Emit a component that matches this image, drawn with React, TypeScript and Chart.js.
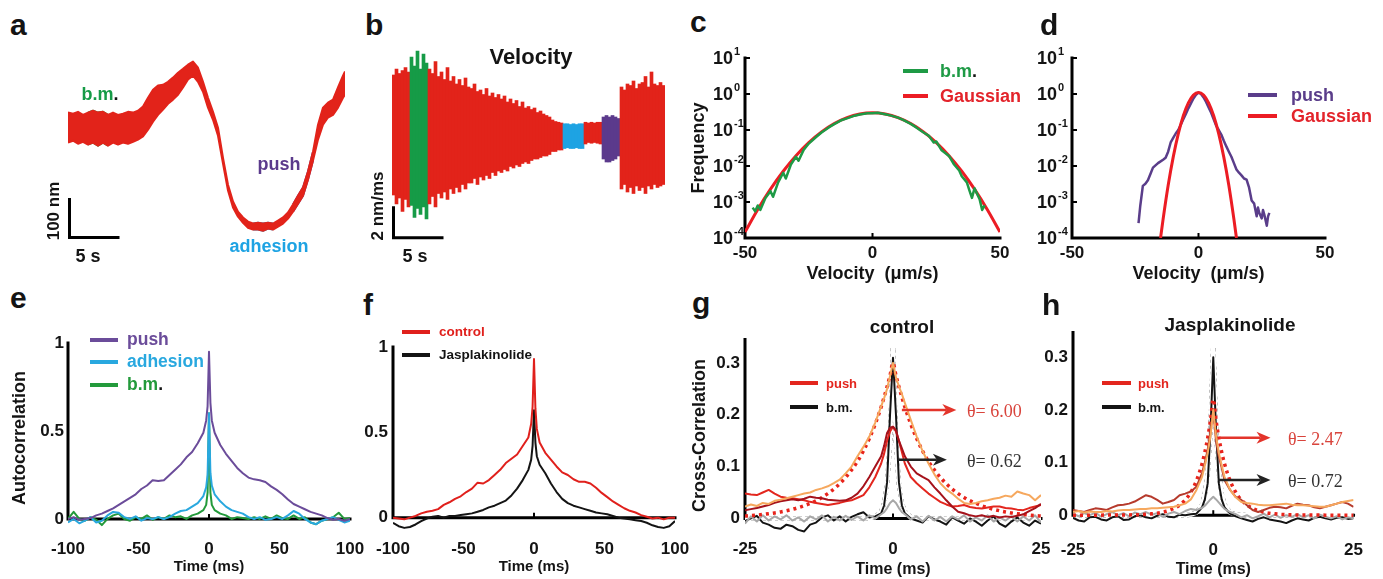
import React, { useEffect, useRef } from "react";
import { Chart, registerables } from "chart.js";

Chart.register(...registerables);

const SANS = "'Liberation Sans', Arial, Helvetica, sans-serif";
const SERIF = "'Liberation Serif', 'Times New Roman', Times, serif";
Chart.defaults.font.family = SANS;

// ---------------- panel a : position trace (nm) ----------------
const aTime = [0, 0.5, 1, 1.5, 2, 2.5, 3, 3.5, 4, 4.5, 5, 5.5, 6, 6.5, 7, 7.5, 8, 8.5, 9, 9.5, 10, 10.5, 11, 11.5, 12, 12.5, 13, 13.5, 14, 14.5, 15, 15.5, 16, 16.5, 17, 17.5, 18, 18.5, 19, 19.5, 20, 20.5, 21, 21.5, 22, 22.5, 23, 23.5, 24, 24.5, 25, 25.5, 26, 26.5, 27, 27.5, 27.7];
const aUpper = [329, 326, 331, 323, 329, 334, 329, 331, 323, 329, 323, 326, 331, 329, 334, 345, 368, 389, 400, 402, 410, 421, 434, 444, 455, 463, 447, 410, 368, 331, 289, 210, 139, 95, 68, 53, 42, 37, 39, 37, 39, 37, 45, 53, 66, 87, 110, 132, 174, 226, 297, 342, 355, 363, 395, 426, 437];
const aLower = [250, 255, 247, 252, 245, 250, 242, 250, 242, 250, 245, 250, 247, 252, 258, 266, 284, 305, 323, 337, 352, 363, 376, 395, 416, 426, 410, 384, 342, 310, 268, 195, 124, 79, 55, 39, 26, 21, 21, 18, 24, 21, 29, 37, 50, 68, 89, 110, 153, 203, 258, 297, 316, 323, 342, 368, 376];
const aBmWindow = [2, 4];
const aAdhesionWindow = [18.5, 20.5];
const aPushWindow = [22.5, 24.5];

// ---------------- panel b : velocity (nm/ms) ----------------
const bTime = [0, 0.3, 0.6, 0.9, 1.2, 1.5, 1.8, 2.1, 2.4, 2.7, 3, 3.3, 3.6, 3.9, 4.2, 4.5, 4.8, 5.1, 5.4, 5.7, 6, 6.3, 6.6, 6.9, 7.2, 7.5, 7.8, 8.1, 8.4, 8.7, 9, 9.3, 9.6, 9.9, 10.2, 10.5, 10.8, 11.1, 11.4, 11.7, 12, 12.3, 12.6, 12.9, 13.2, 13.5, 13.8, 14.1, 14.4, 14.7, 15, 15.3, 15.6, 15.9, 16.2, 16.5, 16.8, 17.1, 17.4, 17.7, 18, 18.3, 18.6, 18.9, 19.2, 19.5, 19.8, 20.1, 20.4, 20.7, 21, 21.3, 21.6, 21.9, 22.2, 22.5, 22.8, 23.1, 23.4, 23.7, 24, 24.3, 24.6, 24.9, 25.2, 25.5, 25.8, 26.1, 26.4, 26.7, 27];
const bHigh = [4.0, 4.4, 4.1, 4.3, 4.5, 4.2, 5.2, 4.6, 5.6, 4.4, 5.4, 4.8, 4.4, 4.1, 4.9, 3.9, 4.2, 3.7, 4.5, 3.6, 3.9, 3.4, 3.7, 3.3, 3.8, 3.2, 3.1, 3.4, 2.9, 3.0, 2.7, 3.1, 2.6, 2.8, 2.5, 2.7, 2.4, 2.6, 2.2, 2.4, 2.1, 2.3, 1.9, 2.2, 1.8, 1.9, 1.7, 1.8, 1.5, 1.6, 1.4, 1.3, 1.2, 1.0, 0.9, 0.85, 0.8, 0.75, 0.75, 0.7, 0.75, 0.7, 0.75, 0.75, 0.85, 0.8, 0.85, 0.8, 0.85, 0.85, 1.2, 1.3, 1.2, 1.3, 1.2, 1.1, 3.2, 3.0, 3.4, 3.3, 3.6, 3.1, 3.4, 3.5, 3.9, 3.2, 4.2, 3.4, 3.3, 3.5, 3.3];
const bLow = [-4.0, -4.6, -4.2, -5.1, -4.3, -4.8, -4.7, -5.5, -4.9, -5.3, -4.8, -5.6, -4.6, -4.1, -4.8, -3.9, -4.2, -3.8, -4.3, -3.6, -3.9, -3.5, -3.8, -3.3, -3.6, -3.2, -3.2, -2.9, -3.3, -2.8, -3.0, -2.7, -2.9, -2.5, -2.7, -2.4, -2.5, -2.3, -2.4, -2.1, -2.2, -2.0, -2.1, -1.9, -1.8, -1.9, -1.7, -1.6, -1.6, -1.5, -1.4, -1.4, -1.3, -1.1, -1.1, -1.0, -1.0, -0.9, -0.85, -0.9, -0.9, -0.85, -0.9, -0.9, -0.6, -0.5, -0.55, -0.5, -0.55, -0.6, -1.6, -1.8, -1.8, -1.7, -1.6, -1.4, -3.6, -3.3, -3.8, -3.5, -3.9, -3.4, -3.7, -3.5, -3.9, -3.4, -3.6, -3.3, -3.5, -3.4, -3.3];
const bBmWindow = [1.8, 3.3];
const bAdhesionWindow = [17.1, 18.9];
const bPushWindow = [21.0, 22.5];

// ---------------- panel c : b.m. velocity histogram ----------------
const cGaussX = [-50, -45, -40, -35, -30, -25, -20, -15, -10, -5, 0, 5, 10, 15, 20, 25, 30, 35, 40, 45, 50];
const cGaussY = [1.46e-4, 6.2e-4, 2.27e-3, 7.14e-3, 0.0193, 0.0446, 0.0885, 0.151, 0.221, 0.278, 0.3, 0.278, 0.221, 0.151, 0.0885, 0.0446, 0.0193, 7.14e-3, 2.27e-3, 6.2e-4, 1.46e-4];
const cBmX = [-47, -46, -45, -44, -42, -40, -39, -37, -35, -34, -32, -30, -29, -27, -25, -22, -20, -17, -15, -12, -10, -7, -5, -2, 0, 2, 5, 7, 10, 12, 15, 17, 20, 22, 24, 25, 27, 30, 32, 34, 35, 37, 38, 39, 40, 42, 43, 44];
const cBmY = [7e-4, 5.5e-4, 8e-4, 6e-4, 1.3e-3, 2.0e-3, 1.4e-3, 3.5e-3, 6.5e-3, 4.5e-3, 0.011, 0.018, 0.014, 0.028, 0.042, 0.065, 0.085, 0.12, 0.145, 0.19, 0.21, 0.25, 0.27, 0.29, 0.29, 0.3, 0.275, 0.255, 0.22, 0.19, 0.148, 0.12, 0.085, 0.07, 0.045, 0.048, 0.028, 0.019, 0.011, 0.0075, 0.0052, 0.0035, 0.0021, 0.0013, 0.0024, 0.0012, 6e-4, 8e-4];

// ---------------- panel d : push velocity histogram ----------------
const dPushX = [-23.7, -23, -22, -21, -20, -19, -18, -16, -14, -13, -12, -11, -10, -9, -8, -7, -6, -5, -4, -3, -2, -1, 0, 1, 2, 3, 4, 5, 6, 7, 8, 9, 10, 11, 12, 13, 14, 15, 16, 17, 18, 19, 20, 21, 22, 23, 23.5, 24, 25, 25.5, 26, 27, 27.5, 28];
const dPushY = [2.6e-4, 8e-4, 2.8e-3, 3.2e-3, 4e-3, 6e-3, 9e-3, 1.2e-2, 1.5e-2, 1.7e-2, 2.5e-2, 4.5e-2, 6e-2, 8e-2, 0.1, 0.14, 0.2, 0.28, 0.4, 0.55, 0.75, 0.95, 1.1, 1.0, 0.8, 0.6, 0.42, 0.3, 0.2, 0.13, 0.1, 0.075, 0.05, 0.035, 0.025, 0.018, 0.012, 0.008, 0.0065, 0.0055, 0.0045, 0.0042, 0.0025, 0.0011, 9e-4, 4e-4, 7e-4, 5e-4, 3.5e-4, 6e-4, 4.5e-4, 2.2e-4, 4e-4, 5e-4];
const dGaussX = [-15, -14, -12, -10, -8, -6, -4, -2, 0, 2, 4, 6, 8, 10, 12, 14, 15];
const dGaussY = [1.0e-4, 3.3e-4, 2.86e-3, 0.0176, 0.078, 0.248, 0.568, 0.933, 1.1, 0.933, 0.568, 0.248, 0.078, 0.0176, 2.86e-3, 3.3e-4, 1.0e-4];
const logTicks = [1e-4, 1e-3, 1e-2, 1e-1, 1, 10];
const velocityTicks = [-50, 0, 50];

// ---------------- panels e, f : autocorrelation ----------------
const eTime = [-100, -96, -92, -88, -84, -80, -76, -72, -68, -64, -60, -56, -52, -48, -44, -40, -36, -32, -28, -24, -20, -16, -12, -8, -4, -2, -1, 0, 1, 2, 4, 8, 12, 16, 20, 24, 28, 32, 36, 40, 44, 48, 52, 56, 60, 64, 68, 72, 76, 80, 84, 88, 92, 96, 100];
const ePush = [0.00, 0.01, -0.005, 0.00, 0.005, 0.02, 0.03, 0.045, 0.06, 0.08, 0.10, 0.12, 0.14, 0.17, 0.19, 0.22, 0.215, 0.22, 0.25, 0.28, 0.31, 0.35, 0.38, 0.43, 0.49, 0.56, 0.64, 0.95, 0.66, 0.56, 0.49, 0.42, 0.37, 0.33, 0.29, 0.26, 0.235, 0.225, 0.22, 0.21, 0.185, 0.165, 0.14, 0.11, 0.085, 0.07, 0.055, 0.04, 0.03, 0.02, 0.005, -0.005, 0.0, -0.01, 0.0];
const eAdhesion = [-0.02, 0.0, -0.025, -0.01, 0.01, -0.02, -0.01, 0.02, 0.04, 0.035, 0.01, 0.0, 0.015, -0.01, 0.005, 0.0, 0.01, 0.0, 0.01, 0.03, 0.045, 0.05, 0.07, 0.09, 0.13, 0.18, 0.25, 0.6, 0.26, 0.19, 0.14, 0.1, 0.07, 0.05, 0.04, 0.03, 0.01, 0.0, 0.01, -0.005, 0.0, 0.01, 0.0, 0.02, 0.045, 0.03, 0.0, -0.02, -0.03, -0.01, 0.0, 0.01, -0.005, -0.02, -0.01];
const eBm = [0.0, 0.04, 0.0, -0.01, 0.01, -0.005, -0.035, 0.0, 0.02, 0.03, 0.0, -0.01, 0.01, 0.0, 0.02, -0.005, 0.01, 0.0, 0.02, 0.01, 0.015, 0.0, 0.02, 0.03, 0.05, 0.08, 0.15, 0.6, 0.15, 0.08, 0.05, 0.03, 0.02, 0.0, 0.01, 0.005, 0.0, 0.01, 0.0, 0.015, 0.0, 0.02, 0.005, 0.0, 0.02, 0.0, 0.01, -0.02, -0.03, -0.01, 0.0, 0.01, 0.035, 0.0, 0.005];
const fControl = [0.0, -0.005, -0.01, 0.0, 0.01, 0.025, 0.035, 0.04, 0.05, 0.075, 0.09, 0.11, 0.125, 0.15, 0.17, 0.205, 0.2, 0.22, 0.25, 0.28, 0.32, 0.345, 0.37, 0.42, 0.47, 0.55, 0.65, 0.93, 0.64, 0.52, 0.44, 0.38, 0.34, 0.3, 0.265, 0.25, 0.225, 0.21, 0.21, 0.2, 0.175, 0.145, 0.12, 0.095, 0.075, 0.055, 0.04, 0.03, 0.015, 0.005, -0.005, 0.0, -0.01, 0.0, 0.0];
const fJasp = [-0.03, -0.05, -0.06, -0.055, -0.04, -0.02, -0.005, 0.005, 0.01, 0.0, 0.01, 0.01, 0.015, 0.02, 0.025, 0.035, 0.045, 0.06, 0.07, 0.085, 0.1, 0.13, 0.17, 0.22, 0.28, 0.34, 0.42, 0.63, 0.44, 0.36, 0.31, 0.26, 0.2, 0.15, 0.11, 0.085, 0.07, 0.06, 0.05, 0.04, 0.03, 0.025, 0.02, 0.01, 0.0, -0.005, -0.01, -0.015, -0.02, -0.03, -0.045, -0.055, -0.06, -0.05, -0.02];
const lagTicks = [-100, -50, 0, 50, 100];
const acTicks = [0, 0.5, 1];

// ---------------- panels g, h : cross-correlation ----------------
const gTime = [-25, -24, -23, -22, -21, -20, -19, -18, -17, -16, -15, -14, -13, -12, -11, -10, -9, -8, -7, -6, -5, -4, -3, -2, -1.5, -1, -0.5, 0, 0.5, 1, 1.5, 2, 3, 4, 5, 6, 7, 8, 9, 10, 11, 12, 13, 14, 15, 16, 17, 18, 19, 20, 21, 22, 23, 24, 25];
const gOrange = [0.023, 0.027, 0.024, 0.03, 0.028, 0.034, 0.036, 0.039, 0.042, 0.045, 0.048, 0.05, 0.055, 0.058, 0.062, 0.068, 0.075, 0.087, 0.1, 0.12, 0.138, 0.158, 0.185, 0.216, 0.232, 0.25, 0.275, 0.3, 0.272, 0.255, 0.24, 0.223, 0.19, 0.158, 0.13, 0.106, 0.085, 0.068, 0.056, 0.048, 0.038, 0.03, 0.028, 0.03, 0.033, 0.035, 0.038, 0.04, 0.044, 0.042, 0.052, 0.048, 0.045, 0.035, 0.045];
const gPushRed = [0.048, 0.046, 0.045, 0.05, 0.055, 0.048, 0.042, 0.04, 0.039, 0.037, 0.035, 0.032, 0.03, 0.028, 0.026, 0.028, 0.03, 0.033, 0.035, 0.04, 0.045, 0.06, 0.08, 0.106, 0.125, 0.15, 0.168, 0.177, 0.168, 0.15, 0.128, 0.106, 0.08, 0.068, 0.058, 0.048, 0.04, 0.032, 0.027, 0.023, 0.024, 0.026, 0.022, 0.02, 0.019, 0.021, 0.023, 0.023, 0.02, 0.019, 0.017, 0.016, 0.02, 0.023, 0.026];
const gPushDark = [0.016, 0.018, 0.02, 0.023, 0.026, 0.03, 0.033, 0.035, 0.037, 0.035, 0.038, 0.042, 0.04, 0.039, 0.036, 0.035, 0.034, 0.035, 0.04, 0.048, 0.062, 0.08, 0.1, 0.12, 0.14, 0.165, 0.175, 0.177, 0.17, 0.15, 0.135, 0.12, 0.1, 0.087, 0.08, 0.074, 0.06, 0.048, 0.035, 0.023, 0.013, 0.01, 0.006, 0.004, 0.006, 0.003, 0.005, 0.002, 0.004, 0.003, 0.005, 0.008, 0.014, 0.02, 0.028];
const gBmBlack = [-0.005, 0.0, 0.005, -0.008, -0.012, -0.018, -0.02, -0.012, -0.015, -0.022, -0.025, -0.012, -0.008, 0.002, 0.006, -0.004, 0.004, -0.006, 0.003, 0.008, 0.012, 0.002, 0.004, 0.01, 0.025, 0.07, 0.2, 0.31, 0.2, 0.07, 0.025, 0.01, 0.0, -0.004, -0.008, 0.004, -0.002, -0.006, -0.012, 0.002, -0.004, -0.01, 0.0, -0.006, -0.014, -0.004, 0.004, -0.01, -0.016, -0.006, 0.002, -0.008, -0.014, -0.004, -0.01];
const gBmGray = [-0.01, 0.004, -0.006, 0.006, -0.004, 0.004, -0.002, 0.006, -0.004, 0.002, -0.006, 0.004, -0.002, 0.006, -0.006, 0.003, -0.004, 0.005, -0.003, 0.004, -0.004, 0.006, 0.0, 0.008, 0.012, 0.02, 0.03, 0.035, 0.03, 0.02, 0.012, 0.008, -0.002, 0.004, -0.006, 0.005, -0.004, 0.003, -0.006, 0.004, -0.002, 0.006, -0.006, 0.002, -0.004, 0.006, -0.006, 0.002, -0.004, 0.004, -0.006, 0.004, -0.004, 0.006, -0.008];
const gFitPush = [0.0046, 0.0055, 0.0065, 0.0077, 0.0091, 0.0107, 0.0126, 0.0149, 0.0176, 0.0208, 0.0246, 0.0291, 0.0344, 0.0406, 0.048, 0.0567, 0.0669, 0.0791, 0.0934, 0.110, 0.130, 0.154, 0.182, 0.215, 0.234, 0.254, 0.276, 0.300, 0.276, 0.254, 0.234, 0.215, 0.182, 0.154, 0.130, 0.110, 0.0934, 0.0791, 0.0669, 0.0567, 0.048, 0.0406, 0.0344, 0.0291, 0.0246, 0.0208, 0.0176, 0.0149, 0.0126, 0.0107, 0.0091, 0.0077, 0.0065, 0.0055, 0.0046];
const gFitBm = [0, 0, 0, 0, 0, 0, 0, 0, 0, 0, 0, 0, 0, 0, 0, 0, 0, 0, 0, 0, 0.0001, 0.0005, 0.0026, 0.013, 0.029, 0.066, 0.147, 0.33, 0.147, 0.066, 0.029, 0.013, 0.0026, 0.0005, 0.0001, 0, 0, 0, 0, 0, 0, 0, 0, 0, 0, 0, 0, 0, 0, 0, 0, 0, 0, 0, 0];
const hOrange = [0.006, 0.008, 0.005, 0.007, 0.006, 0.006, 0.008, 0.007, 0.009, 0.01, 0.01, 0.011, 0.012, 0.012, 0.013, 0.013, 0.014, 0.015, 0.016, 0.019, 0.022, 0.03, 0.048, 0.073, 0.095, 0.118, 0.15, 0.2, 0.15, 0.118, 0.095, 0.073, 0.048, 0.034, 0.025, 0.023, 0.022, 0.02, 0.019, 0.019, 0.02, 0.021, 0.022, 0.02, 0.019, 0.019, 0.018, 0.017, 0.016, 0.016, 0.019, 0.022, 0.025, 0.027, 0.029];
const hPushBrown = [0.01, 0.008, 0.006, 0.01, 0.013, 0.012, 0.01, 0.015, 0.019, 0.02, 0.022, 0.026, 0.032, 0.038, 0.035, 0.029, 0.022, 0.025, 0.029, 0.038, 0.041, 0.045, 0.054, 0.08, 0.1, 0.124, 0.16, 0.2, 0.14, 0.111, 0.09, 0.067, 0.048, 0.035, 0.029, 0.019, 0.01, 0.006, 0.01, 0.014, 0.016, 0.015, 0.013, 0.018, 0.022, 0.02, 0.019, 0.015, 0.013, 0.016, 0.019, 0.022, 0.025, 0.022, 0.016];
const hBmBlack = [-0.005, -0.01, -0.012, -0.004, -0.003, -0.008, -0.01, -0.004, -0.002, -0.009, -0.008, -0.002, 0.0, -0.004, -0.006, -0.001, 0.002, -0.003, -0.004, 0.001, 0.0, 0.002, 0.003, 0.015, 0.03, 0.06, 0.16, 0.3, 0.16, 0.06, 0.03, 0.015, 0.003, -0.002, -0.006, -0.009, -0.012, -0.007, -0.004, -0.008, -0.01, -0.012, -0.015, -0.01, -0.006, -0.008, -0.01, -0.005, -0.003, -0.006, -0.008, -0.005, -0.004, -0.007, -0.006];
const hBmGray = [0.003, -0.002, 0.004, 0.0, 0.005, -0.003, 0.002, 0.006, 0.0, 0.004, -0.002, 0.005, 0.002, 0.006, 0.001, 0.004, -0.003, 0.003, 0.006, 0.002, 0.008, 0.012, 0.01, 0.014, 0.018, 0.024, 0.03, 0.035, 0.03, 0.024, 0.018, 0.012, 0.006, 0.002, -0.004, 0.0, -0.006, -0.002, 0.003, -0.004, 0.001, -0.005, 0.0, -0.003, 0.002, -0.004, 0.0, -0.006, 0.001, -0.003, -0.006, -0.002, -0.008, -0.004, -0.006];
const hFitPush = [0.00005, 0.00006, 0.00008, 0.0001, 0.00012, 0.00015, 0.0002, 0.00023, 0.00028, 0.00034, 0.0005, 0.0008, 0.0011, 0.0017, 0.0026, 0.0038, 0.0058, 0.0086, 0.0129, 0.0194, 0.0291, 0.0437, 0.0655, 0.098, 0.12, 0.1465, 0.18, 0.22, 0.18, 0.1465, 0.12, 0.098, 0.0655, 0.0437, 0.0291, 0.0194, 0.0129, 0.0086, 0.0058, 0.0038, 0.0026, 0.0017, 0.0011, 0.0008, 0.0005, 0.00034, 0.00028, 0.00023, 0.0002, 0.00015, 0.00012, 0.0001, 0.00008, 0.00006, 0.00005];
const hFitBm = [0, 0, 0, 0, 0, 0, 0, 0, 0, 0, 0, 0, 0, 0, 0, 0, 0, 0, 0, 0, 0.0003, 0.0012, 0.005, 0.0199, 0.04, 0.0797, 0.159, 0.32, 0.159, 0.0797, 0.04, 0.0199, 0.005, 0.0012, 0.0003, 0, 0, 0, 0, 0, 0, 0, 0, 0, 0, 0, 0, 0, 0, 0, 0, 0, 0, 0, 0];
const ccTimeTicks = [-25, 0, 25];
const ccTicks = [0, 0.1, 0.2, 0.3];

// annotation arrows (data coordinates)
const gArrows = [
  { x0: 1.5, x1: 10.7, y: 0.209, color: "#e3342b" },
  { x0: 0.8, x1: 9.1, y: 0.113, color: "#222" },
];
const hArrows = [
  { x0: 1.2, x1: 10.2, y: 0.147, color: "#e3342b" },
  { x0: 0.9, x1: 10.2, y: 0.067, color: "#222" },
];

// ---------------- colours ----------------
const RED = "#e2231a";
const GREEN = "#169b47";
const BLUE = "#1ea3e3";
const PURPLE = "#5b3a8c";
const E_PUSH = "#6b4c9a";
const E_ADH = "#29a8df";
const E_BM = "#239a3b";
const ORANGE = "#f6a85e";
const DARKRED = "#a5121b";
const BROWN = "#b63a2c";
const GRAY = "#a8a8a8";
const INK = "#141414";

// ---------------- helpers ----------------
function frame(L: number, R: number, T: number, B: number, yW: number, xH: number, padT: number, padR: number) {
  return { L, R, T, B, yW, xH, padT, padR, x: L - yW, y: T - padT, w: yW + (R - L) + padR, h: padT + (B - T) + xH };
}

function pts(xs: number[], ys: number[]) {
  return xs.map((x, i) => ({ x, y: ys[i] }));
}

function line(label: string, xs: number[], ys: number[], color: string, width: number, extra: any = {}) {
  return {
    type: "line",
    label,
    data: pts(xs, ys),
    borderColor: color,
    backgroundColor: color,
    borderWidth: width,
    pointRadius: 0,
    tension: 0,
    fill: false,
    borderJoinStyle: "round",
    ...extra,
  };
}

function baseOptions(fr: any, scales: any) {
  return {
    responsive: false,
    animation: false,
    devicePixelRatio: 1,
    events: [],
    layout: { padding: { top: fr.padT, right: fr.padR, left: 0, bottom: 0 } },
    plugins: { legend: { display: false }, tooltip: { enabled: false }, title: { display: false } },
    scales,
  };
}

function axisScales(o: any) {
  const fr = o.fr;
  return {
    x: {
      type: "linear",
      min: o.xMin,
      max: o.xMax,
      grid: { display: false, drawTicks: false },
      border: { display: false },
      afterBuildTicks: (s: any) => {
        s.ticks = o.xTicks.map((v: number) => ({ value: v }));
      },
      afterFit: (s: any) => {
        s.height = fr.xH;
      },
      ticks: {
        autoSkip: false,
        maxRotation: 0,
        minRotation: 0,
        padding: o.xPad,
        color: INK,
        font: { family: SANS, size: o.tickSize, weight: "bold" },
        callback: (v: any) => String(v),
      },
      title: {
        display: true,
        text: o.xTitle,
        color: INK,
        font: { family: SANS, size: o.xTitleSize, weight: "bold" },
        padding: { top: 0, bottom: 0 },
      },
    },
    y: {
      type: o.yType || "linear",
      min: o.yMin,
      max: o.yMax,
      grid: { display: false, drawTicks: false },
      border: { display: false },
      afterBuildTicks: (s: any) => {
        s.ticks = o.yTicks.map((v: number) => ({ value: v }));
      },
      afterFit: (s: any) => {
        s.width = fr.yW;
      },
      ticks: {
        display: o.yLabels !== false,
        autoSkip: false,
        padding: o.yPad ?? 4,
        color: INK,
        font: { family: SANS, size: o.tickSize, weight: "bold" },
        callback: (v: any) => String(v),
      },
      title: o.yTitle
        ? {
            display: true,
            text: o.yTitle,
            color: INK,
            font: { family: SANS, size: 18, weight: "bold" },
            padding: { top: o.yTitlePad, bottom: 0 },
          }
        : { display: false },
    },
  };
}

function axisPlugin(spec: any) {
  return {
    id: "axisLines",
    beforeDatasetsDraw(chart: any) {
      const { ctx } = chart;
      const x = chart.scales.x;
      const y = chart.scales.y;
      ctx.save();
      ctx.strokeStyle = "#000";
      ctx.lineWidth = 3;
      ctx.lineCap = "square";
      const yx = x.getPixelForValue(spec.yAxis.at);
      const xy = y.getPixelForValue(spec.xAxis.at);
      ctx.beginPath();
      ctx.moveTo(yx, y.getPixelForValue(spec.yAxis.from));
      ctx.lineTo(yx, y.getPixelForValue(spec.yAxis.to));
      ctx.moveTo(x.getPixelForValue(spec.xAxis.from), xy);
      ctx.lineTo(x.getPixelForValue(spec.xAxis.to), xy);
      ctx.stroke();
      ctx.lineWidth = 2;
      ctx.lineCap = "butt";
      ctx.beginPath();
      for (const v of spec.xTicks || []) {
        const px = x.getPixelForValue(v);
        ctx.moveTo(px, xy);
        ctx.lineTo(px, xy - 5);
      }
      for (const v of spec.yTicks || []) {
        const py = y.getPixelForValue(v);
        ctx.moveTo(yx, py);
        ctx.lineTo(yx + 5, py);
      }
      ctx.stroke();
      ctx.restore();
    },
  };
}

function logLabelPlugin(ticks: number[], gap: number) {
  return {
    id: "logLabels",
    afterDraw(chart: any) {
      const { ctx, chartArea } = chart;
      const y = chart.scales.y;
      ctx.save();
      ctx.fillStyle = INK;
      ctx.textBaseline = "middle";
      for (const v of ticks) {
        const py = y.getPixelForValue(v);
        const exp = Math.round(Math.log10(v));
        const xr = chartArea.left - gap;
        ctx.font = `bold 18px ${SANS}`;
        ctx.textAlign = "right";
        ctx.fillText("10", xr, py + 1);
        ctx.font = `bold 11px ${SANS}`;
        ctx.textAlign = "left";
        ctx.fillText(String(exp), xr + 1, py - 6);
      }
      ctx.restore();
    },
  };
}

function arrowPlugin(arrows: any[]) {
  return {
    id: "arrows",
    afterDatasetsDraw(chart: any) {
      const { ctx } = chart;
      const x = chart.scales.x;
      const y = chart.scales.y;
      ctx.save();
      for (const a of arrows) {
        const x0 = x.getPixelForValue(a.x0);
        const x1 = x.getPixelForValue(a.x1);
        const py = y.getPixelForValue(a.y);
        ctx.strokeStyle = a.color;
        ctx.fillStyle = a.color;
        ctx.lineWidth = 2.5;
        ctx.beginPath();
        ctx.moveTo(x0, py);
        ctx.lineTo(x1 - 10, py);
        ctx.stroke();
        ctx.beginPath();
        ctx.moveTo(x1, py);
        ctx.lineTo(x1 - 14, py - 6);
        ctx.lineTo(x1 - 10, py);
        ctx.lineTo(x1 - 14, py + 6);
        ctx.closePath();
        ctx.fill();
      }
      ctx.restore();
    },
  };
}

function scaleBarPlugin(getSpec: (chart: any) => any) {
  return {
    id: "scaleBar",
    afterDraw(chart: any) {
      const { ctx } = chart;
      const s = getSpec(chart);
      ctx.save();
      ctx.strokeStyle = "#000";
      ctx.lineWidth = 3;
      ctx.lineCap = "square";
      ctx.beginPath();
      ctx.moveTo(s.x0, s.yTop);
      ctx.lineTo(s.x0, s.yBase);
      ctx.lineTo(s.x1, s.yBase);
      ctx.stroke();
      ctx.restore();
    },
  };
}

function inWindow(t: number, w: number[]) {
  return t >= w[0] - 1e-9 && t <= w[1] + 1e-9;
}

function band(xs: number[], hi: number[], lo: number[], color: string, win?: number[]) {
  const idx = xs.map((_, i) => i).filter((i) => (win ? inWindow(xs[i], win) : true));
  const sx = idx.map((i) => xs[i]);
  return [
    line("hi", sx, idx.map((i) => hi[i]), color, 2),
    line("lo", sx, idx.map((i) => lo[i]), color, 2, { fill: "-1", backgroundColor: color }),
  ];
}

// ---------------- frames ----------------
const frA = { x: 68, y: 40, w: 277, h: 209, padT: 0, padR: 0 };
const frB = { x: 392, y: 45, w: 273, h: 200, padT: 0, padR: 0 };
const frC = frame(745, 1000, 58, 238, 65, 47, 18, 20);
const frD = frame(1072, 1325, 58, 238, 52, 47, 18, 20);
const frE = frame(68, 350, 343, 533, 68, 43, 20, 22);
const frF = frame(393, 675, 347, 533, 33, 43, 20, 22);
const frG = frame(745, 1041, 337, 534, 65, 45, 17, 15);
const frH = frame(1073, 1357, 331, 531, 53, 48, 17, 15);

// ---------------- chart configs ----------------
function makeA() {
  return {
    type: "line",
    data: {
      datasets: [
        ...band(aTime, aUpper, aLower, RED),
        ...band(aTime, aUpper, aLower, GREEN, aBmWindow),
        ...band(aTime, aUpper, aLower, BLUE, aAdhesionWindow),
        ...band(aTime, aUpper, aLower, PURPLE, aPushWindow),
      ],
    },
    options: baseOptions(frA, {
      x: { type: "linear", display: false, min: 0, max: 27.7 },
      y: { type: "linear", display: false, min: -30, max: 520 },
    }),
    plugins: [
      scaleBarPlugin((c: any) => ({
        x0: c.scales.x.getPixelForValue(0) + 1.5,
        x1: c.scales.x.getPixelForValue(5),
        yBase: c.scales.y.getPixelForValue(0),
        yTop: c.scales.y.getPixelForValue(100),
      })),
    ],
  };
}

function makeB() {
  const colors = bTime.map((t) =>
    inWindow(t, bBmWindow) ? GREEN : inWindow(t, bAdhesionWindow) ? BLUE : inWindow(t, bPushWindow) ? PURPLE : RED
  );
  return {
    type: "bar",
    data: {
      labels: bTime.map(String),
      datasets: [
        {
          label: "velocity",
          data: bTime.map((_, i) => [bLow[i], bHigh[i]]),
          backgroundColor: colors,
          borderWidth: 0,
          barPercentage: 1,
          categoryPercentage: 1,
        },
      ],
    },
    options: baseOptions(frB, {
      x: { type: "category", display: false },
      y: { type: "linear", display: false, min: -7.3333, max: 6 },
    }),
    plugins: [
      scaleBarPlugin((c: any) => {
        const step = c.scales.x.getPixelForValue(1) - c.scales.x.getPixelForValue(0);
        const perSec = step / (bTime[1] - bTime[0]);
        return {
          x0: c.chartArea.left + 1.5,
          x1: c.chartArea.left + 5 * perSec,
          yBase: c.scales.y.getPixelForValue(-6.85),
          yTop: c.scales.y.getPixelForValue(-4.85),
        };
      }),
    ],
  };
}

function makeC() {
  return {
    type: "line",
    data: {
      datasets: [
        line("b.m.", cBmX, cBmY, "#1e9a45", 2.5),
        line("Gaussian", cGaussX, cGaussY, "#ec1c24", 3, { cubicInterpolationMode: "monotone" }),
      ],
    },
    options: baseOptions(
      frC,
      axisScales({
        fr: frC, xMin: -50, xMax: 50, yMin: 1e-4, yMax: 10, yType: "logarithmic",
        xTicks: velocityTicks, yTicks: logTicks, yLabels: false, tickSize: 17, xPad: 5,
        xTitle: "Velocity  (\u03bcm/s)", xTitleSize: 18, yTitle: "Frequency", yTitlePad: 8,
      })
    ),
    plugins: [
      axisPlugin({ yAxis: { at: -50, from: 1e-4, to: 10 }, xAxis: { at: 1e-4, from: -50, to: 50 }, xTicks: [0], yTicks: logTicks }),
      logLabelPlugin(logTicks, 12),
    ],
  };
}

function makeD() {
  return {
    type: "line",
    data: {
      datasets: [
        line("Gaussian", dGaussX, dGaussY, "#ec1c24", 3, { cubicInterpolationMode: "monotone" }),
        line("push", dPushX, dPushY, "#5a3d8a", 2.5),
      ],
    },
    options: baseOptions(
      frD,
      axisScales({
        fr: frD, xMin: -50, xMax: 50, yMin: 1e-4, yMax: 10, yType: "logarithmic",
        xTicks: velocityTicks, yTicks: logTicks, yLabels: false, tickSize: 17, xPad: 5,
        xTitle: "Velocity  (\u03bcm/s)", xTitleSize: 18,
      })
    ),
    plugins: [
      axisPlugin({ yAxis: { at: -50, from: 1e-4, to: 10 }, xAxis: { at: 1e-4, from: -50, to: 50 }, xTicks: [0], yTicks: logTicks }),
      logLabelPlugin(logTicks, 15),
    ],
  };
}

function makeE() {
  return {
    type: "line",
    data: {
      datasets: [
        line("push", eTime, ePush, E_PUSH, 2),
        line("adhesion", eTime, eAdhesion, E_ADH, 2),
        line("b.m.", eTime, eBm, E_BM, 2),
      ],
    },
    options: baseOptions(
      frE,
      axisScales({
        fr: frE, xMin: -100, xMax: 100, yMin: -0.08, yMax: 1,
        xTicks: lagTicks, yTicks: acTicks, tickSize: 17, xPad: 6, yPad: 4,
        xTitle: "Time (ms)", xTitleSize: 15, yTitle: "Autocorrelation", yTitlePad: 9,
      })
    ),
    plugins: [axisPlugin({ yAxis: { at: -100, from: 0, to: 1 }, xAxis: { at: 0, from: -100, to: 100 }, xTicks: [0] })],
  };
}

function makeF() {
  return {
    type: "line",
    data: {
      datasets: [line("control", eTime, fControl, "#e0201c", 2), line("Jasplakinolide", eTime, fJasp, INK, 2)],
    },
    options: baseOptions(
      frF,
      axisScales({
        fr: frF, xMin: -100, xMax: 100, yMin: -0.09, yMax: 1,
        xTicks: lagTicks, yTicks: acTicks, tickSize: 17, xPad: 6, yPad: 5,
        xTitle: "Time (ms)", xTitleSize: 15,
      })
    ),
    plugins: [axisPlugin({ yAxis: { at: -100, from: 0, to: 1 }, xAxis: { at: 0, from: -100, to: 100 }, xTicks: [0] })],
  };
}

function ccDatasets(orange: number[], dark: number[], darkColor: string, red: number[] | null, gray: number[], black: number[], fitPush: number[], fitBm: number[]) {
  const ds: any[] = [
    line("orange", gTime, orange, ORANGE, 2),
    line("push 2", gTime, dark, darkColor, 2),
  ];
  if (red) ds.push(line("push", gTime, red, "#e3261e", 2));
  ds.push(line("push fit", gTime, fitPush, "#e8231b", 3.5, { borderDash: [3, 4], cubicInterpolationMode: "monotone" }));
  ds.push(line("b.m. 2", gTime, gray, GRAY, 2));
  ds.push(line("b.m.", gTime, black, INK, 2));
  ds.push(line("b.m. fit base", gTime, fitBm, "#ffffff", 4.5));
  ds.push(line("b.m. fit", gTime, fitBm, "#000", 4.5, { borderDash: [3, 3] }));
  return ds;
}

function makeG() {
  return {
    type: "line",
    data: { datasets: ccDatasets(gOrange, gPushDark, DARKRED, gPushRed, gBmGray, gBmBlack, gFitPush, gFitBm) },
    options: baseOptions(
      frG,
      axisScales({
        fr: frG, xMin: -25, xMax: 25, yMin: -0.03, yMax: 0.35,
        xTicks: ccTimeTicks, yTicks: ccTicks, tickSize: 17, xPad: 5, yPad: 5,
        xTitle: "Time (ms)", xTitleSize: 16, yTitle: "Cross-Correlation", yTitlePad: 9,
      })
    ),
    plugins: [
      axisPlugin({ yAxis: { at: -25, from: 0, to: 0.345 }, xAxis: { at: 0, from: -25, to: 25 }, xTicks: [0] }),
      arrowPlugin(gArrows),
    ],
  };
}

function makeH() {
  return {
    type: "line",
    data: { datasets: ccDatasets(hOrange, hPushBrown, BROWN, null, hBmGray, hBmBlack, hFitPush, hFitBm) },
    options: baseOptions(
      frH,
      axisScales({
        fr: frH, xMin: -25, xMax: 25, yMin: -0.03, yMax: 0.35,
        xTicks: ccTimeTicks, yTicks: ccTicks, tickSize: 17, xPad: 9, yPad: 5,
        xTitle: "Time (ms)", xTitleSize: 16,
      })
    ),
    plugins: [
      axisPlugin({ yAxis: { at: -25, from: 0, to: 0.347 }, xAxis: { at: 0, from: -25, to: 25 }, xTicks: [0] }),
      arrowPlugin(hArrows),
    ],
  };
}

// ---------------- components ----------------
function ChartBox({ fr, make }: any) {
  const ref = useRef<HTMLCanvasElement>(null);
  useEffect(() => {
    const chart = new Chart(ref.current as HTMLCanvasElement, make() as any);
    return () => chart.destroy();
  }, []);
  return (
    <canvas
      ref={ref}
      width={fr.w}
      height={fr.h}
      style={{ position: "absolute", left: fr.x, top: fr.y, width: fr.w, height: fr.h }}
    />
  );
}

function Txt({ x, y, size, color = INK, family = SANS, weight = 700, anchor = "left", rotate = 0, children }: any) {
  const tx = anchor === "center" ? "-50%" : "0";
  return (
    <div
      style={{
        position: "absolute",
        left: x,
        top: y,
        fontSize: size,
        color,
        fontFamily: family,
        fontWeight: weight,
        lineHeight: 1,
        whiteSpace: "nowrap",
        transform: `translate(${tx}, -50%)${rotate ? ` rotate(${rotate}deg)` : ""}`,
      }}
    >
      {children}
    </div>
  );
}

function Letter({ x, base, children }: any) {
  return (
    <div
      style={{
        position: "absolute",
        left: x,
        top: base - 25.4,
        fontSize: 30,
        lineHeight: 1,
        fontFamily: SANS,
        fontWeight: 700,
        color: INK,
      }}
    >
      {children}
    </div>
  );
}

function LegLine({ x0, x1, y, color }: any) {
  return <div style={{ position: "absolute", left: x0, top: y - 2, width: x1 - x0, height: 4, background: color }} />;
}

const Dot = () => <span style={{ color: INK }}>.</span>;

export default function App() {
  return (
    <div
      style={{
        position: "absolute",
        left: 0,
        top: 0,
        width: 1383,
        height: 579,
        overflow: "hidden",
        background: "#fff",
        fontFamily: SANS,
      }}
    >
      <ChartBox fr={frA} make={makeA} />
      <ChartBox fr={frB} make={makeB} />
      <ChartBox fr={frC} make={makeC} />
      <ChartBox fr={frD} make={makeD} />
      <ChartBox fr={frE} make={makeE} />
      <ChartBox fr={frF} make={makeF} />
      <ChartBox fr={frG} make={makeG} />
      <ChartBox fr={frH} make={makeH} />

      <Letter x={10} base={35}>a</Letter>
      <Letter x={365} base={35}>b</Letter>
      <Letter x={690} base={32}>c</Letter>
      <Letter x={1040} base={35}>d</Letter>
      <Letter x={10} base={308}>e</Letter>
      <Letter x={363} base={315}>f</Letter>
      <Letter x={692} base={313}>g</Letter>
      <Letter x={1042} base={315}>h</Letter>

      {/* panel a labels */}
      <Txt x={100} y={94} size={18} color={GREEN} anchor="center">b.m<Dot /></Txt>
      <Txt x={279} y={164} size={18} color={PURPLE} anchor="center">push</Txt>
      <Txt x={269} y={246} size={18} color={BLUE} anchor="center">adhesion</Txt>
      <Txt x={53} y={211} size={17} anchor="center" rotate={-90}>100 nm</Txt>
      <Txt x={88} y={256} size={18} anchor="center">5 s</Txt>

      {/* panel b labels */}
      <Txt x={531} y={57} size={22} anchor="center">Velocity</Txt>
      <Txt x={377} y={206} size={17} anchor="center" rotate={-90}>2 nm/ms</Txt>
      <Txt x={415} y={256} size={18} anchor="center">5 s</Txt>

      {/* panel c legend */}
      <LegLine x0={903} x1={928} y={71} color="#1e9a45" />
      <Txt x={940} y={71} size={18} color="#1e9a45">b.m<Dot /></Txt>
      <LegLine x0={903} x1={928} y={96} color="#ec1c24" />
      <Txt x={940} y={96} size={18} color="#e3242b">Gaussian</Txt>

      {/* panel d legend */}
      <LegLine x0={1248} x1={1277} y={95} color="#5a3d8a" />
      <Txt x={1291} y={95} size={18} color="#5a3d8a">push</Txt>
      <LegLine x0={1248} x1={1277} y={116} color="#ec1c24" />
      <Txt x={1291} y={116} size={18} color="#e3242b">Gaussian</Txt>

      {/* panel e legend */}
      <LegLine x0={90} x1={118} y={340} color={E_PUSH} />
      <Txt x={127} y={340} size={17.5} color={E_PUSH}>push</Txt>
      <LegLine x0={90} x1={118} y={362} color={E_ADH} />
      <Txt x={127} y={362} size={17.5} color={E_ADH}>adhesion</Txt>
      <LegLine x0={90} x1={118} y={385} color={E_BM} />
      <Txt x={127} y={385} size={17.5} color={E_BM}>b.m<Dot /></Txt>

      {/* panel f legend */}
      <LegLine x0={402} x1={430} y={332} color="#e0201c" />
      <Txt x={439} y={332} size={13.5} color="#e0201c">control</Txt>
      <LegLine x0={402} x1={430} y={355} color={INK} />
      <Txt x={439} y={355} size={13.5}>Jasplakinolide</Txt>

      {/* panel g */}
      <Txt x={902} y={326} size={19} anchor="center">control</Txt>
      <LegLine x0={790} x1={818} y={383} color="#e3261e" />
      <Txt x={826} y={383} size={13} color="#e3261e">push</Txt>
      <LegLine x0={790} x1={818} y={407} color={INK} />
      <Txt x={826} y={407} size={13}>b.m.</Txt>
      <Txt x={967} y={411} size={18} family={SERIF} weight={400} color="#d9443c">{"\u03b8= 6.00"}</Txt>
      <Txt x={967} y={461} size={18} family={SERIF} weight={400} color="#333">{"\u03b8= 0.62"}</Txt>

      {/* panel h */}
      <Txt x={1230} y={324} size={19} anchor="center">Jasplakinolide</Txt>
      <LegLine x0={1102} x1={1131} y={383} color="#e3261e" />
      <Txt x={1138} y={383} size={13} color="#e3261e">push</Txt>
      <LegLine x0={1102} x1={1131} y={407} color={INK} />
      <Txt x={1138} y={407} size={13}>b.m.</Txt>
      <Txt x={1288} y={439} size={18} family={SERIF} weight={400} color="#d9443c">{"\u03b8= 2.47"}</Txt>
      <Txt x={1288} y={481} size={18} family={SERIF} weight={400} color="#333">{"\u03b8= 0.72"}</Txt>
    </div>
  );
}
